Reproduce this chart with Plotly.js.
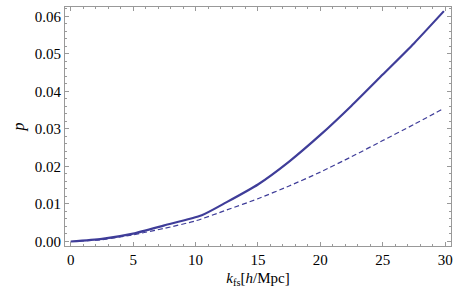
<!DOCTYPE html>
<html>
<head>
<meta charset="utf-8">
<script src="https://cdn.plot.ly/plotly-3.0.1.min.js"></script>
<style>html,body{margin:0;padding:0;background:#fff;}#chart{width:463px;height:290px;}</style>
</head>
<body>
<div id="chart"></div>
<script>
// k_fs values [h/Mpc]
var kSolid = [0, 2.5, 5, 7.5, 10.5, 12.5, 15, 17.5, 20, 22.5, 25, 27.5, 29.9];
var pSolid = [0, 0.0007, 0.0021, 0.0043, 0.0070, 0.0105, 0.0152, 0.0213, 0.0284, 0.0362, 0.0445, 0.0528, 0.0614];
var kDashed = [0, 2.5, 5, 7.5, 10, 12.5, 15, 17.5, 20, 22.5, 25, 27.5, 29.8];
var pDashed = [0, 0.0005, 0.0018, 0.0035, 0.0055, 0.0084, 0.0114, 0.0148, 0.0185, 0.0226, 0.0269, 0.0312, 0.0353];
var xTickVals = [0, 5, 10, 15, 20, 25, 30];
var yTickVals = [0, 0.01, 0.02, 0.03, 0.04, 0.05, 0.06];

var lineColor = 'rgb(63,61,153)';
var font = '"Liberation Serif"';

var traces = [
  {x: kSolid, y: pSolid, mode: 'lines', line: {color: lineColor, width: 2.2, shape: 'spline', smoothing: 0.6}, hoverinfo: 'skip'},
  {x: kDashed, y: pDashed, mode: 'lines', line: {color: lineColor, width: 1.2, dash: '5px,3px', shape: 'spline', smoothing: 0.6}, hoverinfo: 'skip'}
];

var axisCommon = {
  showline: true, linecolor: '#999', linewidth: 1, mirror: 'allticks',
  ticks: 'inside', ticklen: 4, tickcolor: '#999', tickwidth: 1,
  showgrid: false, zeroline: false,
  tickfont: {family: font, size: 15, color: '#000'}
};

var layout = {
  width: 463, height: 290,
  margin: {l: 65, r: 12, t: 7, b: 44},
  paper_bgcolor: '#fff', plot_bgcolor: '#fff',
  showlegend: false,
  font: {family: font, size: 15, color: '#000'},
  xaxis: Object.assign({}, axisCommon, {
    range: [-0.46, 30.47], tickvals: xTickVals, ticktext: xTickVals.map(String),
    minor: {dtick: 1, tick0: 0, ticks: 'inside', ticklen: 2, tickcolor: '#999'},
    title: {text: '<i>k</i><sub>fs</sub>[<i>h</i>/Mpc]', font: {family: font, size: 15, color: '#000'}, standoff: 5}
  }),
  yaxis: Object.assign({}, axisCommon, {
    range: [-0.0012, 0.0625], tickvals: yTickVals, ticktext: yTickVals.map(function(v){return v.toFixed(2);}),
    minor: {dtick: 0.002, tick0: 0, ticks: 'inside', ticklen: 2, tickcolor: '#999'},
    title: {text: '<i>p</i>', font: {family: font, size: 16, color: '#000'}, standoff: 6}
  })
};

Plotly.newPlot('chart', traces, layout, {staticPlot: true, displayModeBar: false});
</script>
</body>
</html>
